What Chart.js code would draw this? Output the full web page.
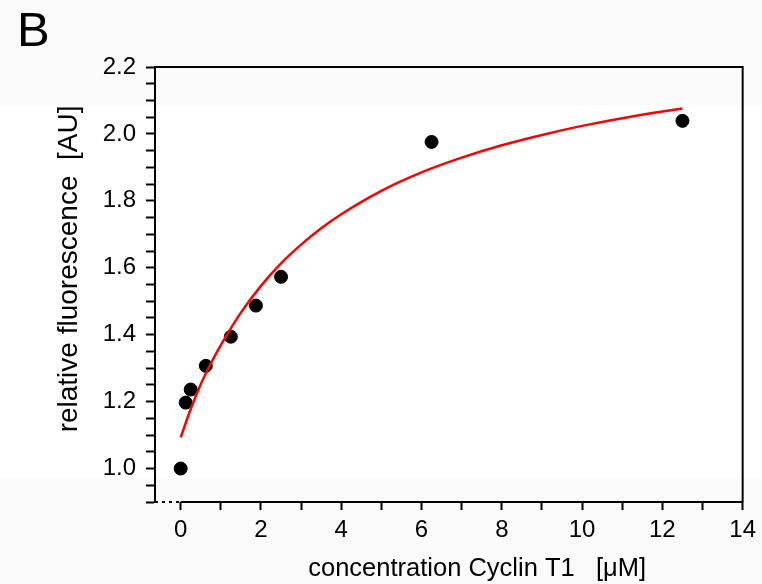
<!DOCTYPE html>
<html>
<head>
<meta charset="utf-8">
<script src="https://cdn.jsdelivr.net/npm/chart.js@4.4.1/dist/chart.umd.min.js"></script>
<style>
  html, body { margin: 0; padding: 0; }
  body {
    width: 762px; height: 584px; position: relative; overflow: hidden;
    background: linear-gradient(to bottom, #fafafa 0px, #fafafa 105px, #ffffff 105px, #ffffff 479px, #fafafa 479px);
  }
  #wrap { position: absolute; left: 0; top: 0; width: 762px; height: 584px; }
  #panel {
    position: absolute; left: 17px; top: 1px;
    font-family: "Liberation Sans", Arial, sans-serif; font-size: 49px; color: #000;
  }
</style>
</head>
<body>
<div id="panel">B</div>
<div id="wrap"><canvas id="chart" width="762" height="584"></canvas></div>
<script>
// measured points
const concentration = [0, 0.125, 0.25, 0.625, 1.25, 1.875, 2.5, 6.25, 12.5];
const fluorescence = [1.0, 1.197, 1.236, 1.307, 1.394, 1.487, 1.573, 1.976, 2.039];

// fitted curve
const fitX = [0, 0.25, 0.5, 0.75, 1, 1.5, 2, 2.5, 3, 3.5, 4, 5, 6, 7, 8, 9, 10, 11, 12, 12.5];
const fitY = [1.093, 1.178, 1.252, 1.314, 1.369, 1.466, 1.546, 1.613, 1.669, 1.718, 1.760,
  1.830, 1.885, 1.929, 1.966, 1.997, 2.024, 2.047, 2.067, 2.076];

const xTickValues = [0, 1, 2, 3, 4, 5, 6, 7, 8, 9, 10, 11, 12, 13, 14];
const xTickLabels = ["0", "2", "4", "6", "8", "10", "12", "14"];
const yTickValues = [0.9, 0.95, 1.0, 1.05, 1.1, 1.15, 1.2, 1.25, 1.3, 1.35, 1.4, 1.45, 1.5,
  1.55, 1.6, 1.65, 1.7, 1.75, 1.8, 1.85, 1.9, 1.95, 2.0, 2.05, 2.1, 2.15, 2.2];
const yTickLabels = ["1.0", "1.2", "1.4", "1.6", "1.8", "2.0", "2.2"];

const FONT = "'Liberation Sans', Arial, sans-serif";
const NB = "\u00a0";

const framePlugin = {
  id: "frame",
  afterDraw(chart) {
    const { ctx, chartArea, scales } = chart;
    const x0 = scales.x.getPixelForValue(0);
    ctx.save();
    ctx.strokeStyle = "#000";
    ctx.lineWidth = 2;
    // top + right frame
    ctx.beginPath();
    ctx.moveTo(chartArea.left, chartArea.top);
    ctx.lineTo(chartArea.right, chartArea.top);
    ctx.lineTo(chartArea.right, chartArea.bottom);
    ctx.stroke();
    // x axis: solid from 0, dotted before it
    ctx.beginPath();
    ctx.moveTo(x0, chartArea.bottom);
    ctx.lineTo(chartArea.right, chartArea.bottom);
    ctx.stroke();
    ctx.setLineDash([3, 4]);
    ctx.beginPath();
    ctx.moveTo(chartArea.left, chartArea.bottom);
    ctx.lineTo(x0, chartArea.bottom);
    ctx.stroke();
    ctx.restore();
  }
};

new Chart(document.getElementById("chart").getContext("2d"), {
  type: "scatter",
  data: {
    datasets: [
      {
        label: "fit",
        data: fitX.map((x, i) => ({ x: x, y: fitY[i] })),
        showLine: true,
        borderColor: "#ff0000",
        borderWidth: 2.5,
        pointRadius: 0,
        cubicInterpolationMode: "monotone",
        order: 0
      },
      {
        label: "data",
        data: concentration.map((x, i) => ({ x: x, y: fluorescence[i] })),
        backgroundColor: "#000",
        borderColor: "#000",
        pointRadius: 6.5,
        order: 1
      }
    ]
  },
  options: {
    responsive: false,
    animation: false,
    layout: { padding: { left: 52, top: 67, right: 11, bottom: 0 } },
    plugins: { legend: { display: false }, tooltip: { enabled: false } },
    scales: {
      x: {
        type: "linear",
        min: -0.64,
        max: 14,
        afterBuildTicks: s => { s.ticks = xTickValues.map(v => ({ value: v })); },
        afterFit: s => { s.height = 82; },
        border: { display: false },
        grid: { drawOnChartArea: false, drawTicks: true, tickLength: 8, tickColor: "#000", tickWidth: 2 },
        ticks: {
          color: "#000",
          padding: 6,
          maxRotation: 0,
          autoSkip: false,
          font: { family: FONT, size: 24 },
          callback: v => xTickLabels.includes(String(v)) ? String(v) : ""
        },
        title: {
          display: true,
          text: NB.repeat(8) + "concentration Cyclin T1   [\u03bcM]",
          color: "#000",
          font: { family: FONT, size: 25.5 },
          padding: { top: 3, bottom: 0 }
        }
      },
      y: {
        type: "linear",
        min: 0.9,
        max: 2.2,
        afterBuildTicks: s => { s.ticks = yTickValues.map(v => ({ value: v })); },
        afterFit: s => { s.width = 103; },
        border: { display: true, color: "#000", width: 2 },
        grid: { drawOnChartArea: false, drawTicks: true, tickLength: 9, tickColor: "#000", tickWidth: 2 },
        ticks: {
          color: "#000",
          padding: 10,
          autoSkip: false,
          font: { family: FONT, size: 24 },
          callback: v => yTickLabels.includes(v.toFixed(1)) && Math.abs(v * 10 - Math.round(v * 10)) < 1e-6 ? v.toFixed(1) : ""
        },
        title: {
          display: true,
          text: NB.repeat(4) + "relative fluorescence  [AU]",
          color: "#000",
          font: { family: FONT, size: 28 },
          padding: { top: 0, bottom: 0 }
        }
      }
    }
  },
  plugins: [framePlugin]
});
</script>
</body>
</html>
